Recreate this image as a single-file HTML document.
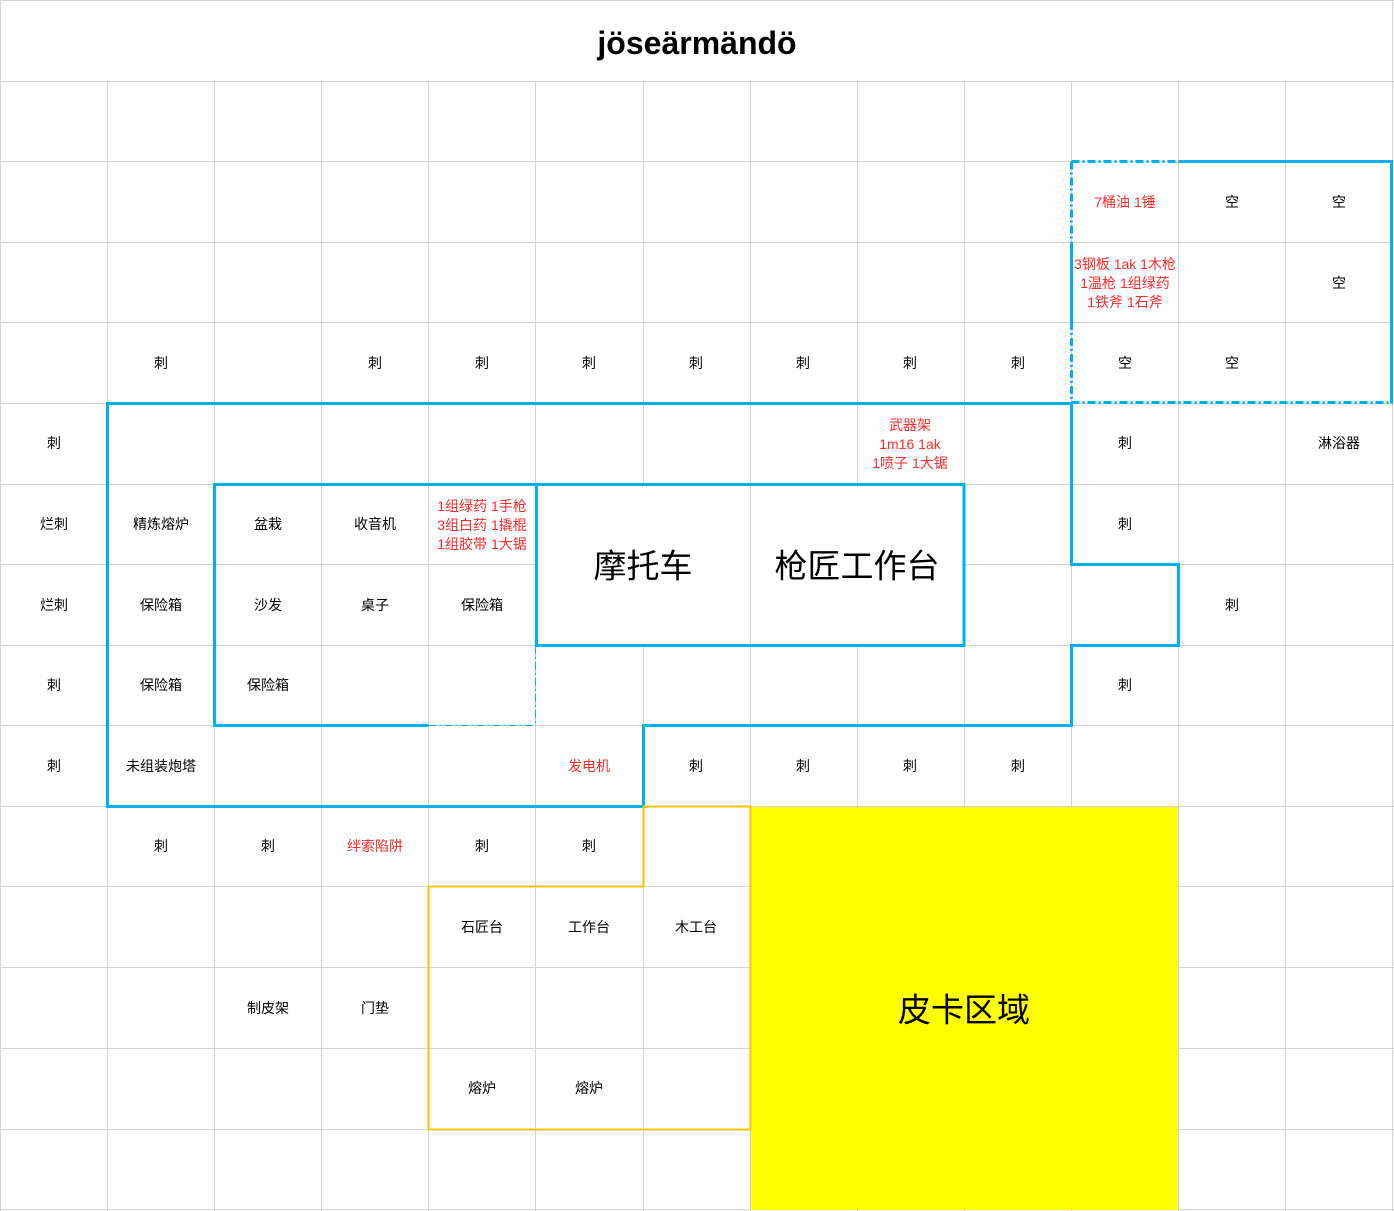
<!DOCTYPE html>
<html><head><meta charset="utf-8"><style>
html,body{margin:0;padding:0;background:#fff}
svg{display:block}
text{font-family:"Liberation Sans","Noto Sans CJK SC",sans-serif;font-size:14px;fill:#000;text-anchor:middle;dominant-baseline:central}
.r{fill:#ff2a2a}
.big{font-size:33px}
</style></head><body>
<svg width="1394" height="1211" viewBox="0 0 1394 1211" xmlns="http://www.w3.org/2000/svg">
<rect width="1394" height="1211" fill="#fff"/>
<rect x="750" y="806" width="428" height="403" fill="#ffff00"/>
<g stroke="#d4d4d4" stroke-width="1">
<line x1="0" y1="0.5" x2="1394" y2="0.5"/>
<line x1="0.5" y1="0" x2="0.5" y2="1211"/>
<line x1="1392.5" y1="0" x2="1392.5" y2="1211"/>
<line x1="0" y1="1209.5" x2="1394" y2="1209.5"/>
<line x1="0" y1="81.5" x2="1394" y2="81.5"/>
<line x1="0" y1="161.5" x2="1394" y2="161.5"/>
<line x1="0" y1="242.5" x2="1394" y2="242.5"/>
<line x1="0" y1="322.5" x2="1394" y2="322.5"/>
<line x1="0" y1="403.5" x2="1394" y2="403.5"/>
<line x1="0" y1="484.5" x2="1394" y2="484.5"/>
<line x1="0" y1="564.5" x2="1394" y2="564.5"/>
<line x1="0" y1="645.5" x2="1394" y2="645.5"/>
<line x1="0" y1="725.5" x2="1394" y2="725.5"/>
<line x1="0" y1="806.5" x2="1394" y2="806.5"/>
<line x1="0" y1="886.5" x2="1394" y2="886.5"/>
<line x1="0" y1="967.5" x2="1394" y2="967.5"/>
<line x1="0" y1="1048.5" x2="1394" y2="1048.5"/>
<line x1="0" y1="1129.5" x2="1394" y2="1129.5"/>
<line x1="107.5" y1="81" x2="107.5" y2="1211"/>
<line x1="214.5" y1="81" x2="214.5" y2="1211"/>
<line x1="321.5" y1="81" x2="321.5" y2="1211"/>
<line x1="428.5" y1="81" x2="428.5" y2="1211"/>
<line x1="535.5" y1="81" x2="535.5" y2="1211"/>
<line x1="643.5" y1="81" x2="643.5" y2="1211"/>
<line x1="750.5" y1="81" x2="750.5" y2="1211"/>
<line x1="857.5" y1="81" x2="857.5" y2="1211"/>
<line x1="964.5" y1="81" x2="964.5" y2="1211"/>
<line x1="1071.5" y1="81" x2="1071.5" y2="1211"/>
<line x1="1178.5" y1="81" x2="1178.5" y2="1211"/>
<line x1="1285.5" y1="81" x2="1285.5" y2="1211"/>
</g>
<!-- yellow covers grid -->
<rect x="751" y="807" width="427" height="403" fill="#ffff00"/>
<!-- motorcycle box white interior (keep 750 line) -->
<rect x="537" y="486" width="213" height="158" fill="#fff"/>
<rect x="751" y="486" width="212" height="158" fill="#fff"/>
<!-- dashed segments background cleanup -->
<!-- blue outlines -->
<g fill="none" stroke="#00b0f0" stroke-width="3">
<polygon points="107.5,403.5 1071.5,403.5 1071.5,564.5 1178.5,564.5 1178.5,645.5 1071.5,645.5 1071.5,725.5 643.5,725.5 643.5,806.5 107.5,806.5"/>
<polyline points="535.5,484.5 214.5,484.5 214.5,725.5 428.5,725.5"/>
<rect x="536.5" y="484.5" width="427.5" height="161"/>
<polyline points="1178.5,161.5 1391.5,161.5 1391.5,403.5"/>
<line x1="1071.5" y1="242" x2="1071.5" y2="322"/>
</g>
<g fill="none" stroke="#00b0f0" stroke-width="3" stroke-dasharray="8,3,2,3">
<line x1="1071.5" y1="161.5" x2="1178.5" y2="161.5"/>
<line x1="1071.5" y1="161.5" x2="1071.5" y2="242"/>
<line x1="1071.5" y1="322" x2="1071.5" y2="403"/>
<line x1="1071.5" y1="402.5" x2="1391.5" y2="402.5"/>
</g>
<g fill="none" stroke="#00b0f0" stroke-width="1" stroke-dasharray="8,3,2,3">
<line x1="428.5" y1="725.5" x2="535.5" y2="725.5"/>
<line x1="535.5" y1="646" x2="535.5" y2="725.5"/>
</g>
<!-- orange -->
<polygon points="643.5,806.5 750.5,806.5 750.5,1129.5 428.5,1129.5 428.5,886.5 643.5,886.5" fill="none" stroke="#ffc000" stroke-width="2"/>

<text x="697" y="43" style="font-size:32px;font-weight:bold">jöseärmändö</text>

<text x="1125" y="202" class="r">7桶油 1锤</text>
<text x="1232" y="202">空</text>
<text x="1339" y="202">空</text>
<text x="1125" y="264" class="r">3钢板 1ak 1木枪</text>
<text x="1125" y="283" class="r">1温枪 1组绿药</text>
<text x="1125" y="302" class="r">1铁斧 1石斧</text>
<text x="1339" y="283">空</text>

<text x="161" y="363">刺</text>
<text x="375" y="363">刺</text>
<text x="482" y="363">刺</text>
<text x="589" y="363">刺</text>
<text x="696" y="363">刺</text>
<text x="803" y="363">刺</text>
<text x="910" y="363">刺</text>
<text x="1018" y="363">刺</text>
<text x="1125" y="363">空</text>
<text x="1232" y="363">空</text>

<text x="54" y="443">刺</text>
<text x="910" y="425" class="r">武器架</text>
<text x="910" y="444" class="r">1m16 1ak</text>
<text x="910" y="463" class="r">1喷子 1大锯</text>
<text x="1125" y="443">刺</text>
<text x="1339" y="443">淋浴器</text>

<text x="54" y="524">烂刺</text>
<text x="161" y="524">精炼熔炉</text>
<text x="268" y="524">盆栽</text>
<text x="375" y="524">收音机</text>
<text x="482" y="506" class="r">1组绿药 1手枪</text>
<text x="482" y="525" class="r">3组白药 1撬棍</text>
<text x="482" y="544" class="r">1组胶带 1大锯</text>
<text x="1125" y="524">刺</text>

<text x="643" y="566" class="big">摩托车</text>
<text x="857" y="566" class="big">枪匠工作台</text>

<text x="54" y="605">烂刺</text>
<text x="161" y="605">保险箱</text>
<text x="268" y="605">沙发</text>
<text x="375" y="605">桌子</text>
<text x="482" y="605">保险箱</text>
<text x="1232" y="605">刺</text>

<text x="54" y="685">刺</text>
<text x="161" y="685">保险箱</text>
<text x="268" y="685">保险箱</text>
<text x="1125" y="685">刺</text>

<text x="54" y="766">刺</text>
<text x="161" y="766">未组装炮塔</text>
<text x="589" y="766" class="r">发电机</text>
<text x="696" y="766">刺</text>
<text x="803" y="766">刺</text>
<text x="910" y="766">刺</text>
<text x="1018" y="766">刺</text>

<text x="161" y="846">刺</text>
<text x="268" y="846">刺</text>
<text x="375" y="846" class="r">绊索陷阱</text>
<text x="482" y="846">刺</text>
<text x="589" y="846">刺</text>

<text x="482" y="927">石匠台</text>
<text x="589" y="927">工作台</text>
<text x="696" y="927">木工台</text>

<text x="268" y="1008">制皮架</text>
<text x="375" y="1008">门垫</text>
<text x="964" y="1010" class="big">皮卡区域</text>

<text x="482" y="1088">熔炉</text>
<text x="589" y="1088">熔炉</text>
</svg>
</body></html>
